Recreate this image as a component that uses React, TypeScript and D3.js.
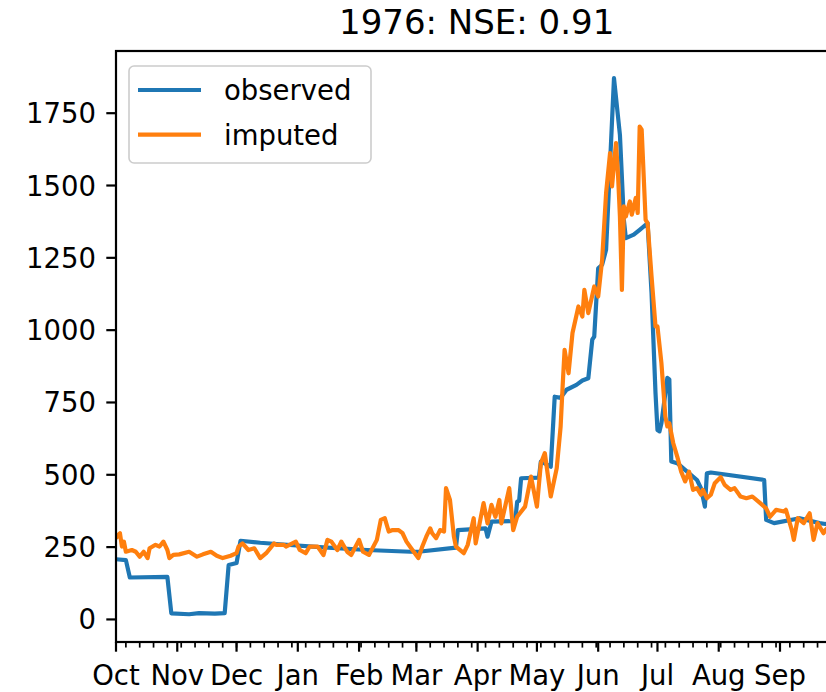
import React from 'react';
import * as d3 from 'd3';

// water year 1976, daily flow, days counted from 1 Oct 1975
const waterYearStart = new Date(1975, 9, 1);
const waterYearEnd = new Date(1976, 8, 30);

const obsDay = [
  0, 5, 7, 26, 28, 37, 42, 50, 55, 57, 61, 63, 73, 83, 103, 127, 149, 153, 172, 173,
  187, 188, 190, 202, 203, 204, 205, 214, 215, 220, 222, 225, 228, 233, 236, 239, 241, 242, 244, 246,
  248, 252, 255, 257, 258, 262, 265, 268, 269, 271, 273, 274, 275, 276, 279, 280, 281, 284, 289, 294,
  296, 298, 299, 301, 328, 329, 333, 346, 356, 359, 365,
];
const obsFlow = [
  208, 205, 145, 147, 21, 18, 22, 20, 22, 188, 195, 272, 265, 260, 250, 240, 234, 234, 248, 309,
  315, 286, 338, 340, 407, 410, 488, 490, 546, 528, 770, 766, 794, 811, 826, 834, 967, 978, 1214, 1226,
  1278, 1871, 1675, 1381, 1318, 1330, 1347, 1364, 1370, 1129, 783, 655, 650, 678, 835, 830, 546, 540, 511, 482,
  454, 390, 505, 508, 482, 344, 333, 350, 333, 330, 330,
];

const impDay = [
  0, 1, 2, 3, 4, 5, 8, 10, 12, 14, 16, 17, 20, 22, 24, 26, 27, 29, 32, 37,
  41, 44, 48, 51, 54, 58, 61, 62, 64, 67, 70, 73, 76, 80, 81, 85, 86, 91, 93, 96,
  98, 102, 105, 107, 109, 112, 114, 117, 119, 123, 125, 128, 132, 134, 136, 138, 140, 143, 145, 147,
  150, 153, 155, 157, 159, 160, 162, 164, 166, 167, 169, 171, 172, 176, 178, 181, 182, 184, 186, 188,
  190, 192, 194, 195, 199, 201, 203, 207, 210, 213, 215, 217, 220, 223, 225, 226, 227, 229, 231, 234,
  236, 237, 239, 242, 244, 246, 248, 250, 251, 253, 254, 255, 256, 257, 258, 260, 261, 263, 264, 265,
  266, 268, 269, 271, 273, 274, 276, 278, 279, 280, 282, 284, 286, 288, 290, 292, 294, 296, 297, 299,
  301, 303, 306, 308, 311, 313, 316, 319, 322, 326, 329, 331, 334, 338, 339, 342, 343, 345, 348, 351,
  353, 355, 358, 359, 362, 365,
];
const impFlow = [
  280, 292, 298, 252, 269, 234, 240, 234, 217, 234, 212, 246, 258, 252, 269, 240, 212, 223, 225, 234,
  217, 225, 234, 220, 212, 220, 229, 252, 263, 240, 246, 212, 229, 263, 258, 258, 252, 269, 240, 229,
  252, 252, 223, 275, 269, 240, 269, 234, 223, 275, 234, 223, 275, 344, 350, 304, 309, 309, 298, 269,
  240, 212, 252, 286, 315, 298, 281, 309, 304, 454, 413, 286, 252, 229, 258, 350, 263, 332, 402, 332,
  396, 355, 413, 332, 454, 309, 355, 390, 494, 390, 540, 575, 425, 522, 667, 805, 932, 851, 990, 1082,
  1047, 1139, 1059, 1151, 1116, 1243, 1474, 1612, 1497, 1647, 1543, 1393, 1139, 1428, 1393, 1445, 1399, 1457, 1405, 1704,
  1693, 1381, 1370, 1186, 1013, 1013, 886, 701, 667, 678, 609, 563, 511, 477, 511, 448, 454, 431, 448, 419,
  431, 471, 492, 465, 448, 454, 425, 419, 425, 402, 384, 355, 379, 373, 379, 309, 275, 350, 333, 367,
  275, 333, 298, 309, 330, 320,
];

const yTicks = [0, 250, 500, 750, 1000, 1250, 1500, 1750];
const monthLabels = ['Oct', 'Nov', 'Dec', 'Jan', 'Feb', 'Mar', 'Apr', 'May', 'Jun', 'Jul', 'Aug', 'Sep'];
const seriesNames = ['observed', 'imputed'];
const seriesColors = ['#1f77b4', '#ff7f0e'];
const title = '1976: NSE: 0.91';

const W = 826;
const H = 692;
const left = 116;
const right = 837.3;
const top = 51;
const bottom = 642;
const font = 'DejaVu Sans, sans-serif';
const tickFont = 27.5;
const lw = 4.2;

export default function App() {
  const x = d3.scaleTime().domain([waterYearStart, waterYearEnd]).range([left, right]);
  const y = d3.scaleLinear().domain([-78, 1965]).range([bottom, top]);

  const toPoints = (days: number[], vals: number[]) =>
    days.map((d, i) => ({ date: d3.timeDay.offset(waterYearStart, d), v: vals[i] }));

  const series = [toPoints(obsDay, obsFlow), toPoints(impDay, impFlow)];

  const line = d3
    .line<{ date: Date; v: number }>()
    .x(d => x(d.date))
    .y(d => y(d.v));

  const months = d3.timeMonth.range(waterYearStart, d3.timeDay.offset(waterYearEnd, 1));
  const mondays = d3.timeMonday.range(waterYearStart, d3.timeDay.offset(waterYearEnd, 1));

  return (
    <svg
      width={W}
      height={H}
      style={{ position: 'absolute', left: 0, top: 0, background: '#fff' }}
      fontFamily={font}
    >
      <defs>
        <clipPath id="plot">
          <rect x={left} y={top} width={right - left} height={bottom - top} />
        </clipPath>
      </defs>

      <text x={(left + right) / 2} y={33.5} textAnchor="middle" fontSize={34} fill="#000">
        {title}
      </text>

      <g clipPath="url(#plot)">
        {series.map((s, i) => (
          <path
            key={seriesNames[i]}
            d={line(s) || ''}
            fill="none"
            stroke={seriesColors[i]}
            strokeWidth={lw}
            strokeLinejoin="round"
          />
        ))}
      </g>

      {/* y axis */}
      {yTicks.map(t => (
        <g key={t}>
          <line x1={left - 9.7} x2={left} y1={y(t)} y2={y(t)} stroke="#000" strokeWidth={2.2} />
          <text x={left - 20} y={y(t) + 10} textAnchor="end" fontSize={tickFont} fill="#000">
            {t}
          </text>
        </g>
      ))}

      {/* x axis: weekly minor ticks, monthly major ticks */}
      {mondays.map(d => (
        <line key={+d} x1={x(d)} x2={x(d)} y1={bottom} y2={bottom + 5.6} stroke="#000" strokeWidth={1.7} />
      ))}
      {months.map((d, i) => (
        <g key={+d}>
          <line x1={x(d)} x2={x(d)} y1={bottom} y2={bottom + 9.7} stroke="#000" strokeWidth={2.2} />
          <text x={x(d)} y={685} textAnchor="middle" fontSize={tickFont} fill="#000">
            {monthLabels[i]}
          </text>
        </g>
      ))}

      {/* spines */}
      <rect x={left} y={top} width={right - left} height={bottom - top} fill="none" stroke="#000" strokeWidth={2.2} />

      {/* legend */}
      <rect x={129} y={66} width={242} height={97} rx={5} fill="#fff" fillOpacity={0.8} stroke="#cccccc" strokeWidth={1.6} />
      {seriesNames.map((n, i) => (
        <g key={n}>
          <line x1={138} x2={201} y1={90 + i * 44.7} y2={90 + i * 44.7} stroke={seriesColors[i]} strokeWidth={lw} />
          <text x={224} y={100 + i * 44.7} fontSize={tickFont} fill="#000">
            {n}
          </text>
        </g>
      ))}
    </svg>
  );
}
